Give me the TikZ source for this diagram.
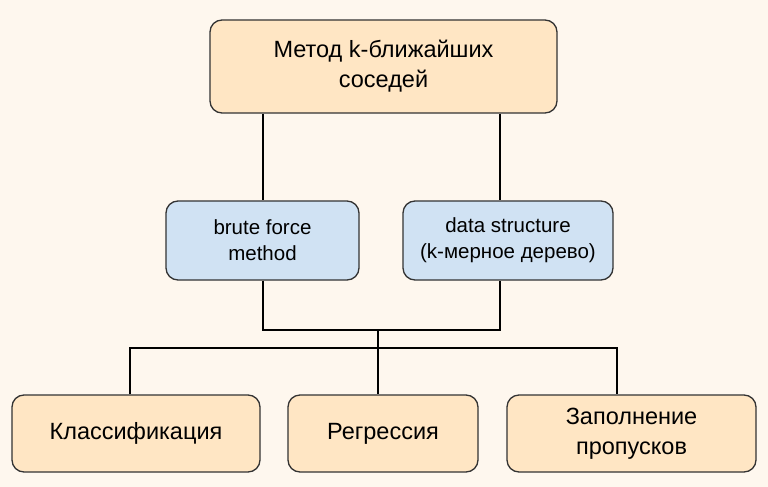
\documentclass[tikz,border=0pt]{standalone}
\usepackage{fontspec}
\setmainfont{Liberation Sans}
\definecolor{bgc}{HTML}{FEF7EE}
\definecolor{orangefill}{HTML}{FFE6C4}
\definecolor{bluefill}{HTML}{D0E2F3}
\definecolor{edge}{HTML}{333333}
\begin{document}
\begin{tikzpicture}[x=1pt,y=-1pt,
  box/.style={draw=edge,line width=1.3pt,rounded corners=12pt,align=center,inner sep=0pt},
  obox/.style={box,fill=orangefill,font=\fontsize{23.5}{30}\selectfont},
  bbox/.style={box,fill=bluefill,font=\fontsize{20.5}{26}\selectfont},
  conn/.style={line width=1.7pt,black}]
\fill[bgc] (0,0) rectangle (768,487);
\useasboundingbox (0,0) rectangle (768,487);
% top
\node[obox,minimum width=347pt,minimum height=93pt] (top) at (383.5,66.5) {Метод k-ближайших\\соседей};
\node[bbox,minimum width=193pt,minimum height=79pt] (brute) at (262.5,240.5) {brute force\\method};
\node[bbox,minimum width=210pt,minimum height=79pt] (ds) at (508,240.5) {data structure\\(k-мерное дерево)};
\node[obox,minimum width=248pt,minimum height=77pt] (cls) at (136,433.5) {Классификация};
\node[obox,minimum width=190pt,minimum height=77pt] (reg) at (383,433.5) {Регрессия};
\node[obox,minimum width=249pt,minimum height=77pt] (fill) at (631.5,433.5) {Заполнение\\пропусков};
% connectors
\coordinate (bl) at (263,330);
\coordinate (br) at (500,330);
\coordinate (mid) at (378,330);
\coordinate (hl) at (130,348);
\coordinate (hr) at (617,348);
\draw[conn] (top.south -| 263,0) -- (brute.north -| 263,0);
\draw[conn] (top.south -| 500,0) -- (ds.north -| 500,0);
\draw[conn] (brute.south -| bl) -- (bl) -- (br) -- (ds.south -| br);
\draw[conn] (mid) -- (reg.north -| mid);
\draw[conn] (cls.north -| hl) -- (hl) -- (hr) -- (fill.north -| hr);
\end{tikzpicture}
\end{document}
